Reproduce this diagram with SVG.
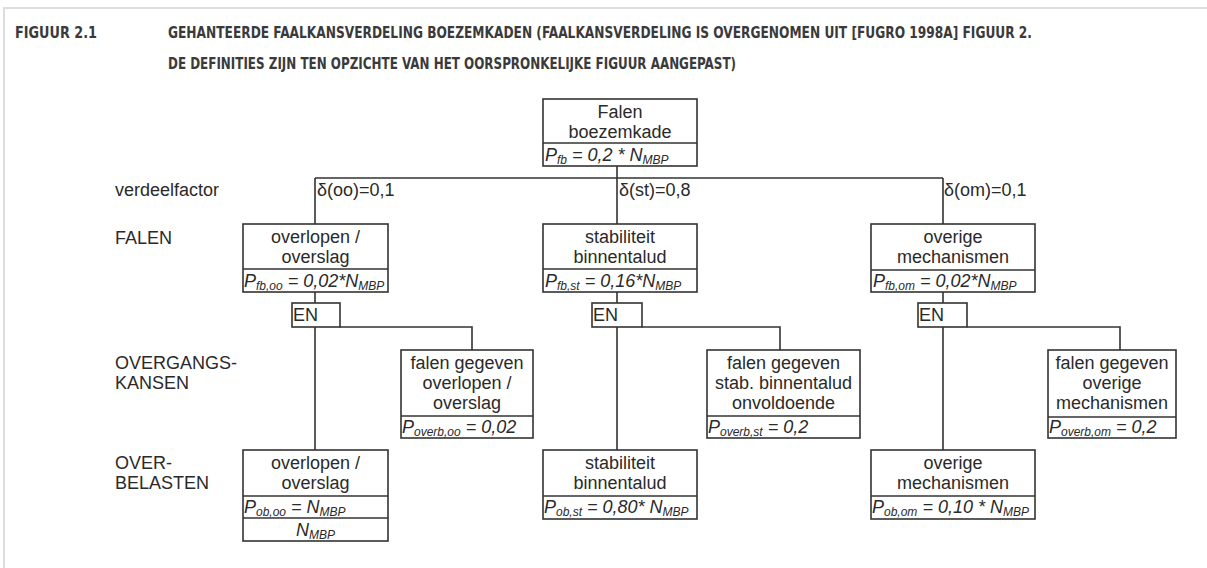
<svg xmlns="http://www.w3.org/2000/svg" width="1207" height="568" viewBox="0 0 1207 568">
<style>
.t{font-family:"DejaVu Sans Condensed","DejaVu Sans",sans-serif;font-weight:bold;font-size:15.5px;fill:#3a3a3a}
.l{font-family:"Liberation Sans",Arial,sans-serif;font-size:18px;fill:#2a2a2a}
.c{text-anchor:middle}
.f{font-family:"Liberation Sans",Arial,sans-serif;font-size:18px;font-style:italic;fill:#2a2a2a}
.s{font-size:12px}
.b{fill:#fff;stroke:#333;stroke-width:1.6}
.d{stroke:#333;stroke-width:1.6;fill:none}
.w{stroke:#333;stroke-width:1.6;fill:none}
</style>
<rect width="1207" height="568" fill="#fff"/>
<path d="M4,568V8H1207" stroke="#ddd" stroke-width="2" fill="none"/>
<g id="title">
<text class="t" x="15" y="38" textLength="82" lengthAdjust="spacingAndGlyphs">FIGUUR 2.1</text>
<text class="t" x="168" y="38" textLength="864" lengthAdjust="spacingAndGlyphs">GEHANTEERDE FAALKANSVERDELING BOEZEMKADEN (FAALKANSVERDELING IS OVERGENOMEN UIT [FUGRO 1998A] FIGUUR 2.</text>
<text class="t" x="168" y="69" textLength="568" lengthAdjust="spacingAndGlyphs">DE DEFINITIES ZIJN TEN OPZICHTE VAN HET OORSPRONKELIJKE FIGUUR AANGEPAST)</text>
</g>
<g id="row-labels">
<text class="l" x="115" y="196">verdeelfactor</text>
<text class="l" x="115" y="244">FALEN</text>
<text class="l" x="115" y="369">OVERGANGS-</text>
<text class="l" x="115" y="389">KANSEN</text>
<text class="l" x="115" y="469">OVER-</text>
<text class="l" x="115" y="489">BELASTEN</text>
</g>
<g id="connectors">
<path class="w" d="M617,166V178M315,178H943M315,178V224M617,178V224M943,178V224"/>
<path class="w" d="M315,292V303M315,327V450M340,327H472V350"/>
<path class="w" d="M617,292V303M617,327V450M642,327H780V350"/>
<path class="w" d="M943,292V303M943,327V450M967,327H1120V350"/>
<text class="l" x="317" y="196">δ(oo)=0,1</text>
<text class="l" x="619" y="196">δ(st)=0,8</text>
<text class="l" x="944" y="196">δ(om)=0,1</text>
</g>
<g id="falen-boezemkade">
<rect class="b" x="543" y="99" width="154" height="67"/>
<line class="d" x1="543" y1="143" x2="697" y2="143"/>
<text class="l c" x="620" y="118">Falen</text>
<text class="l c" x="620" y="138">boezemkade</text>
<text class="f" x="545" y="161">P<tspan class="s" dy="3">fb</tspan><tspan dy="-3"> = 0,2 * N</tspan><tspan class="s" dy="3">MBP</tspan></text>
</g>
<g id="falen-oo">
<rect class="b" x="243" y="224" width="145" height="68"/>
<line class="d" x1="243" y1="269" x2="388" y2="269"/>
<text class="l c" x="315.5" y="243">overlopen /</text>
<text class="l c" x="315.5" y="263">overslag</text>
<text class="f" x="244" y="287">P<tspan class="s" dy="3">fb,oo</tspan><tspan dy="-3"> = 0,02*N</tspan><tspan class="s" dy="3">MBP</tspan></text>
</g>
<g id="falen-st">
<rect class="b" x="543" y="224" width="154" height="68"/>
<line class="d" x1="543" y1="269" x2="697" y2="269"/>
<text class="l c" x="620" y="243">stabiliteit</text>
<text class="l c" x="620" y="263">binnentalud</text>
<text class="f" x="545" y="287">P<tspan class="s" dy="3">fb,st</tspan><tspan dy="-3"> = 0,16*N</tspan><tspan class="s" dy="3">MBP</tspan></text>
</g>
<g id="falen-om">
<rect class="b" x="871" y="224" width="164" height="68"/>
<line class="d" x1="871" y1="270" x2="1035" y2="270"/>
<text class="l c" x="953" y="243">overige</text>
<text class="l c" x="953" y="263">mechanismen</text>
<text class="f" x="873" y="287">P<tspan class="s" dy="3">fb,om</tspan><tspan dy="-3"> = 0,02*N</tspan><tspan class="s" dy="3">MBP</tspan></text>
</g>
<g id="en-oo">
<rect class="b" x="292" y="303" width="48" height="24"/>
<text class="l" x="293" y="321">EN</text>
</g>
<g id="en-st">
<rect class="b" x="592" y="303" width="50" height="24"/>
<text class="l" x="593" y="321">EN</text>
</g>
<g id="en-om">
<rect class="b" x="918" y="303" width="49" height="24"/>
<text class="l" x="919" y="321">EN</text>
</g>
<g id="overgang-oo">
<rect class="b" x="401" y="350" width="132" height="88"/>
<line class="d" x1="401" y1="416" x2="533" y2="416"/>
<text class="l c" x="467" y="369">falen gegeven</text>
<text class="l c" x="467" y="389">overlopen /</text>
<text class="l c" x="467" y="409">overslag</text>
<text class="f" x="402" y="433">P<tspan class="s" dy="3">overb,oo</tspan><tspan dy="-3"> = 0,02</tspan></text>
</g>
<g id="overgang-st">
<rect class="b" x="707" y="350" width="153" height="88"/>
<line class="d" x1="707" y1="416" x2="860" y2="416"/>
<text class="l c" x="783.5" y="369">falen gegeven</text>
<text class="l c" x="783.5" y="389">stab. binnentalud</text>
<text class="l c" x="783.5" y="409">onvoldoende</text>
<text class="f" x="708" y="433">P<tspan class="s" dy="3">overb,st</tspan><tspan dy="-3"> = 0,2</tspan></text>
</g>
<g id="overgang-om">
<rect class="b" x="1048" y="350" width="128" height="88"/>
<line class="d" x1="1048" y1="417" x2="1176" y2="417"/>
<text class="l c" x="1112" y="369">falen gegeven</text>
<text class="l c" x="1112" y="389">overige</text>
<text class="l c" x="1112" y="409">mechanismen</text>
<text class="f" x="1049" y="433">P<tspan class="s" dy="3">overb,om</tspan><tspan dy="-3"> = 0,2</tspan></text>
</g>
<g id="overbelast-oo">
<rect class="b" x="243" y="450" width="145" height="91"/>
<line class="d" x1="243" y1="496" x2="388" y2="496"/>
<line class="d" x1="243" y1="518" x2="388" y2="518"/>
<text class="l c" x="315.5" y="469">overlopen /</text>
<text class="l c" x="315.5" y="489">overslag</text>
<text class="f" x="244" y="513">P<tspan class="s" dy="3">ob,oo</tspan><tspan dy="-3"> = N</tspan><tspan class="s" dy="3">MBP</tspan></text>
<text class="f c" x="315.5" y="536">N<tspan class="s" dy="3">MBP</tspan></text>
</g>
<g id="overbelast-st">
<rect class="b" x="543" y="450" width="154" height="69"/>
<line class="d" x1="543" y1="496" x2="697" y2="496"/>
<text class="l c" x="620" y="469">stabiliteit</text>
<text class="l c" x="620" y="489">binnentalud</text>
<text class="f" x="544" y="513">P<tspan class="s" dy="3">ob,st</tspan><tspan dy="-3"> = 0,80* N</tspan><tspan class="s" dy="3">MBP</tspan></text>
</g>
<g id="overbelast-om">
<rect class="b" x="871" y="450" width="164" height="69"/>
<line class="d" x1="871" y1="496" x2="1035" y2="496"/>
<text class="l c" x="953" y="469">overige</text>
<text class="l c" x="953" y="489">mechanismen</text>
<text class="f" x="872" y="513">P<tspan class="s" dy="3">ob,om</tspan><tspan dy="-3"> = 0,10 * N</tspan><tspan class="s" dy="3">MBP</tspan></text>
</g>
</svg>
